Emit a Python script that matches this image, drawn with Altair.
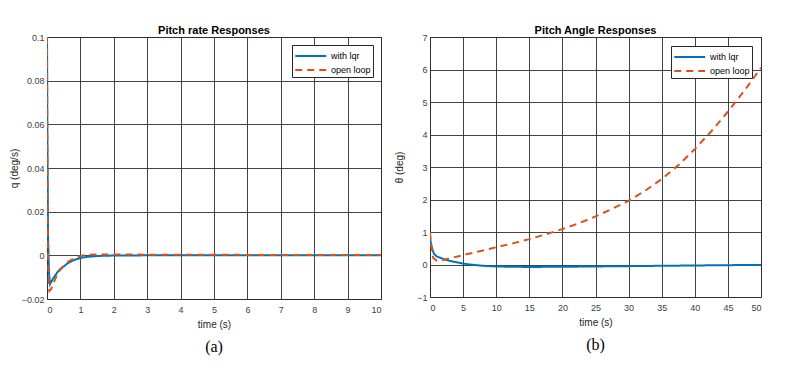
import altair as alt
import pandas as pd

# ---- Data ----
series_names = ["with lqr", "open loop"]

# Pitch rate responses (panel a)
q_t_lqr = [0, 0.01, 0.03, 0.06, 0.09, 0.15, 0.2, 0.3, 0.4, 0.52, 0.6, 0.8, 1.0, 1.2, 1.5, 2, 3, 4, 5, 6, 7, 8, 9, 10]
q_lqr = [0.1, 0.06, 0.01, -0.008, -0.0132, -0.0115, -0.0102, -0.008, -0.0062, -0.0049, -0.0038, -0.0022, -0.0012, -0.0007, -0.0003, -0.0001, 0, 0, 0, 0, 0, 0, 0, 0]
q_t_ol = [0, 0.01, 0.03, 0.05, 0.07, 0.12, 0.2, 0.3, 0.4, 0.5, 0.6, 0.8, 1.0, 1.2, 1.5, 2, 3, 4, 5, 6, 7, 8, 9, 10]
q_ol = [0.1, 0.05, 0.0, -0.012, -0.0163, -0.0155, -0.0125, -0.009, -0.0065, -0.0047, -0.0033, -0.0014, -0.0003, 0.0002, 0.0004, 0.0004, 0.0003, 0.0003, 0.0003, 0.0002, 0.0002, 0.0002, 0.0002, 0.0002]

# Pitch angle responses (panel b)
th_t_lqr = [0, 0.1, 0.3, 0.6, 1, 2, 3, 4, 5, 6, 8, 10, 12, 15, 20, 25, 30, 35, 40, 45, 50]
th_lqr = [0.85, 0.7, 0.5, 0.33, 0.25, 0.17, 0.11, 0.07, 0.03, 0.0, -0.04, -0.06, -0.07, -0.075, -0.07, -0.06, -0.05, -0.04, -0.03, -0.02, -0.015]
th_t_ol = [0, 0.2, 0.5, 1, 2, 3, 5, 7.5, 10, 12.5, 15, 17.5, 20, 22.5, 25, 27.5, 30, 32.5, 35, 37.5, 40, 42.5, 45, 47.5, 50]
th_ol = [1.0, 0.55, 0.2, 0.12, 0.14, 0.19, 0.29, 0.41, 0.53, 0.65, 0.78, 0.93, 1.09, 1.27, 1.48, 1.71, 1.96, 2.27, 2.63, 3.05, 3.55, 4.1, 4.7, 5.35, 6.05]

titles = ["Pitch rate Responses", "Pitch Angle Responses"]
captions = ["(a)", "(b)"]

BLUE = "#0072BD"
ORANGE = "#D95319"
FONT = "Liberation Sans"

color_scale = alt.Scale(domain=series_names, range=[BLUE, ORANGE])
dash_scale = alt.Scale(domain=series_names, range=[[1, 0], [7, 5]])


def make_legend(offset):
    return alt.Legend(
        title=None, orient="top-right", offset=offset, padding=2,
        strokeColor="#262626", fillColor="white",
        symbolType="M-1,0H3", symbolSize=240, symbolStrokeWidth=2,
        labelFontSize=9, labelFont=FONT, labelColor="#000000",
        rowPadding=0, labelOffset=19,
    )


def df(t, v, name):
    return pd.DataFrame({"t": t, "v": v, "series": [name] * len(t)})


def panel(t1, v1, t2, v2, xmax, xstep, ylo, yhi, ystep, ytitle, title, caption, w, h, ytpad, loff):
    xs = alt.Scale(domain=[0, xmax], nice=False, zero=False)
    ys = alt.Scale(domain=[ylo, yhi], nice=False, zero=False)
    xvals = [i * xstep for i in range(int(round(xmax / xstep)) + 1)]
    n = int(round((yhi - ylo) / ystep))
    yvals = [round(ylo + i * ystep, 4) for i in range(n + 1)]
    xax = alt.Axis(values=xvals, format="~r", title="time (s)", grid=True, labelPadding=6, titlePadding=5)
    yax = alt.Axis(values=yvals, format="~r", title=ytitle, grid=True, labelPadding=3, titlePadding=ytpad)
    legend = make_legend(loff)

    def line(d):
        return alt.Chart(d).mark_line(strokeWidth=2, clip=True).encode(
            x=alt.X("t:Q", scale=xs, axis=xax),
            y=alt.Y("v:Q", scale=ys, axis=yax),
            color=alt.Color("series:N", scale=color_scale, legend=legend, sort=series_names),
            strokeDash=alt.StrokeDash("series:N", scale=dash_scale, legend=legend, sort=series_names),
        )

    cap = alt.Chart(pd.DataFrame({"c": [caption]})).mark_text(
        font="Liberation Serif", fontSize=16, color="#000000", baseline="middle", align="center"
    ).encode(text="c:N", x=alt.value(w / 2), y=alt.value(h + 48))

    return alt.layer(line(df(t1, v1, series_names[0])), line(df(t2, v2, series_names[1])), cap).properties(
        width=w, height=h,
        title=alt.TitleParams(title, fontSize=11, font=FONT, fontWeight="bold", color="#000000", offset=-3),
    )


left = panel(q_t_lqr, q_lqr, q_t_ol, q_ol, 10, 1, -0.02, 0.1, 0.02, "q (deg/s)", titles[0], captions[0], 334, 262, 2, 8)
right = panel(th_t_lqr, th_lqr, th_t_ol, th_ol, 50, 5, -1, 7, 1, "θ (deg)", titles[1], captions[1], 331, 260, 12, 9)

chart = alt.hconcat(left, right, spacing=12).resolve_legend(
    color="independent", strokeDash="independent"
).properties(
    background="white", padding={"left": 0, "top": 16, "right": 0, "bottom": 0}
).configure_view(
    stroke="#262626", strokeWidth=1, fill="white"
).configure_axis(
    domain=False, ticks=False, gridColor="#303030", gridOpacity=0.9, gridWidth=1,
    labelFont=FONT, labelFontSize=9, labelColor="#404040",
    titleFont=FONT, titleFontSize=10, titleColor="#262626", titleFontWeight="normal",
)

chart.save("out.html", embed_options={"renderer": "svg", "actions": False})
